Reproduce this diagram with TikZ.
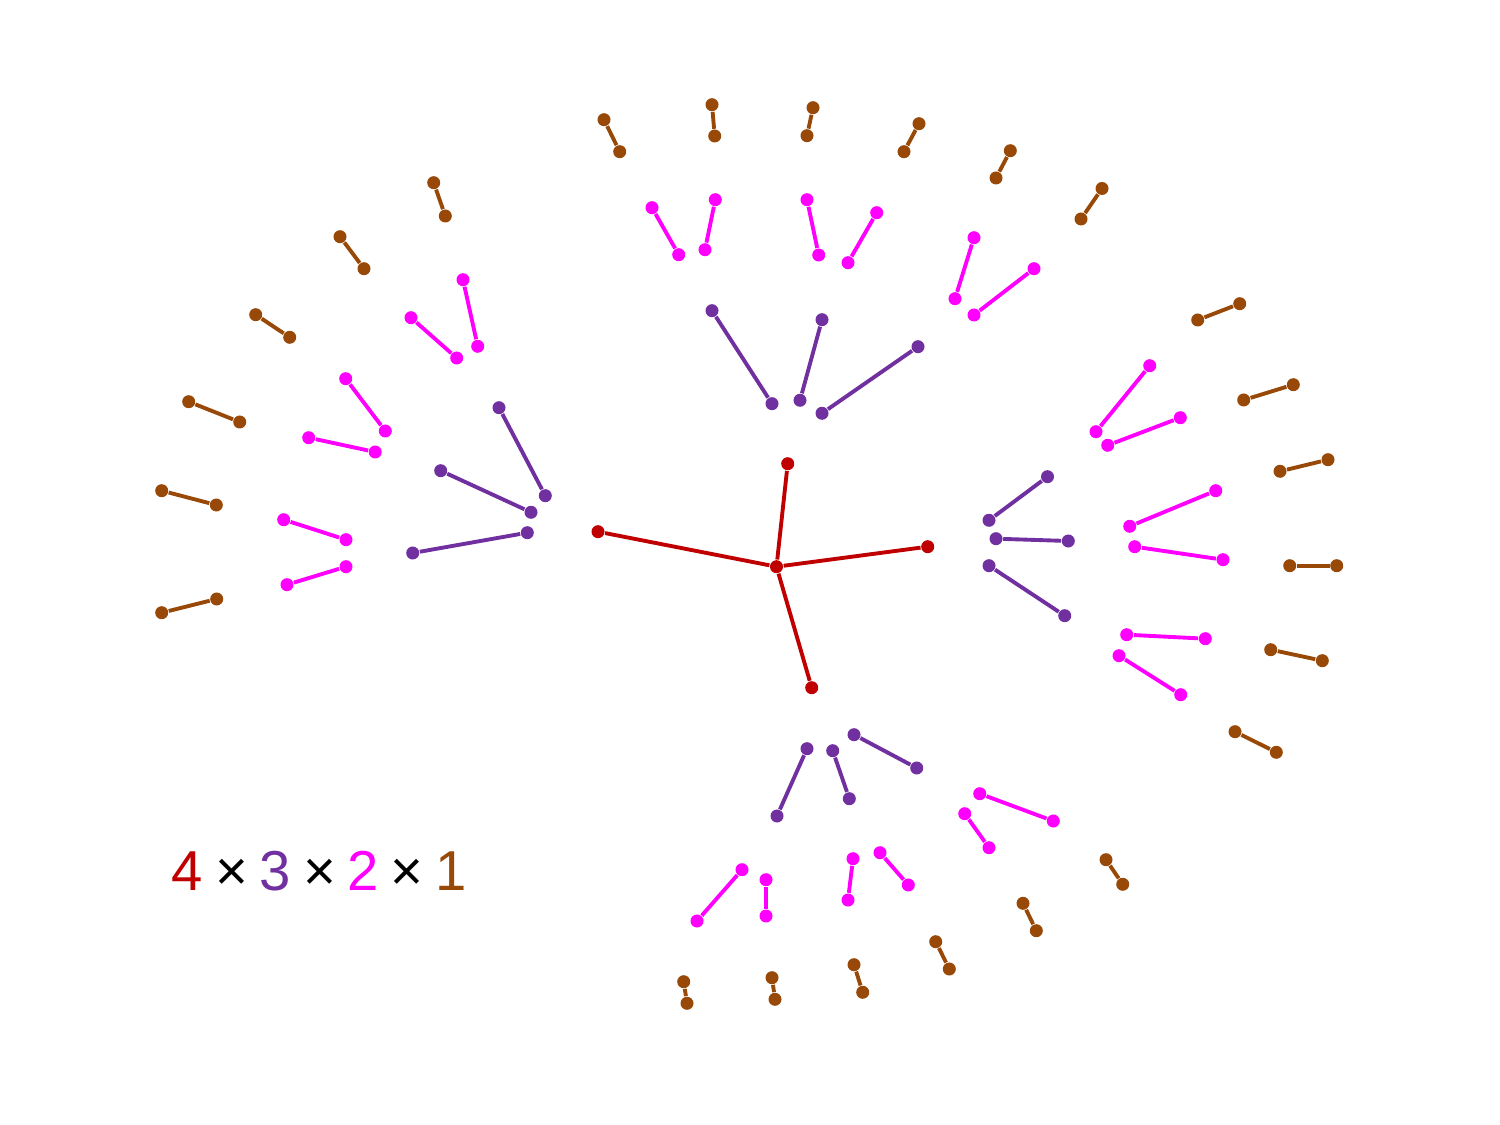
\documentclass[tikz,border=0pt]{standalone}
\usepackage{fontspec}
\setmainfont{Liberation Sans}
\definecolor{cred}{HTML}{C00000}
\definecolor{cpur}{HTML}{7030A0}
\definecolor{cmag}{HTML}{FF00FF}
\definecolor{cbrn}{HTML}{984807}
\tikzset{
  dot/.style={circle,fill=#1,draw=none,inner sep=0pt,minimum size=0.13cm},
  conn/.style={draw=#1,line width=1.1pt},
  leg/.style={anchor=base,inner sep=0pt,text=#1,font=\fontsize{16pt}{19pt}\selectfont},
}
\newcommand\seg[4]{%
  \node[dot=#2] (#1a) at (#3) {};
  \node[dot=#2] (#1b) at (#4) {};
  \draw[conn=#2] (#1a) -- (#1b);}
\begin{document}
\begin{tikzpicture}[x=0.01cm,y=-0.01cm]
\useasboundingbox (0,0) rectangle (1500,1125);
% red star
\node[dot=cred] (c) at (776.5,566.7) {};
\node[dot=cred] (r1) at (787.7,463.7) {};
\node[dot=cred] (r2) at (598,531.7) {};
\node[dot=cred] (r3) at (927.7,546.7) {};
\node[dot=cred] (r4) at (811.7,687.7) {};
\foreach \r in {r1,r2,r3,r4} \draw[conn=cred] (c) -- (\r);
% purple
\seg{pa}{cpur}{712,310.7}{772,403.7}
\seg{pb}{cpur}{822,319.7}{800,400.3}
\seg{pc}{cpur}{918,346.7}{822,413.3}
\seg{pd}{cpur}{499,407.7}{545.3,495.7}
\seg{pe}{cpur}{440.7,470.7}{531,512.3}
\seg{pf}{cpur}{412.7,553}{527.3,532.7}
\seg{pg}{cpur}{1047.5,476.7}{989,520.3}
\seg{ph}{cpur}{996,538.7}{1068.3,541}
\seg{pi}{cpur}{989,565.7}{1064.7,615.7}
\seg{pj}{cpur}{807,748.7}{777,816}
\seg{pk}{cpur}{832.7,750.7}{849.3,798.7}
\seg{pl}{cpur}{854,734.7}{916.7,768}
% magenta
\seg{ma}{cmag}{652,207.7}{678.7,254.7}
\seg{mb}{cmag}{715.3,199.7}{705,249.7}
\seg{mc}{cmag}{807,199.7}{818.7,255}
\seg{md}{cmag}{876.7,212.7}{848,262.7}
\seg{me}{cmag}{974,237.7}{955,298.7}
\seg{mf}{cmag}{1034,268.7}{974,315}
\seg{mg}{cmag}{463,279.7}{477.7,346.3}
\seg{mh}{cmag}{411,317.7}{456.7,358}
\seg{mi}{cmag}{345.7,378.7}{385.3,431}
\seg{mj}{cmag}{308.7,437.7}{375.2,452}
\seg{mk}{cmag}{283.7,519.7}{346,539.7}
\seg{ml}{cmag}{287,584.7}{346,566.7}
\seg{mm}{cmag}{1149.7,365.7}{1096,431.7}
\seg{mn}{cmag}{1180.3,417.7}{1107.7,445.3}
\seg{mo}{cmag}{1215.7,490.7}{1129.7,526.3}
\seg{mp}{cmag}{1134.7,546.7}{1223,559.7}
\seg{mq}{cmag}{1126.7,634.7}{1205.3,638.7}
\seg{mr}{cmag}{1119,655.7}{1180.7,694.7}
\seg{ms}{cmag}{742,869.7}{697,921}
\seg{mt}{cmag}{766,879.7}{766,916}
\seg{mu}{cmag}{853,858.7}{848,900}
\seg{mv}{cmag}{880,852.7}{908.3,885}
\seg{mw}{cmag}{979.7,793.7}{1053.3,821}
\seg{mx}{cmag}{964.7,813.7}{989,847.7}
% brown
\seg{ba}{cbrn}{604,119.7}{619.7,151.7}
\seg{bb}{cbrn}{712,104.7}{714.7,136}
\seg{bc}{cbrn}{813,107.7}{807,135.7}
\seg{bd}{cbrn}{919,123.7}{904,151.7}
\seg{be}{cbrn}{1010.3,150.7}{996,178}
\seg{bf}{cbrn}{1102,188.5}{1081,219}
\seg{bg}{cbrn}{433.7,182.7}{445.3,216}
\seg{bh}{cbrn}{340,236.7}{364,268.7}
\seg{bi}{cbrn}{255.7,314.7}{289.7,337.3}
\seg{bj}{cbrn}{188.7,401.7}{239.7,422}
\seg{bk}{cbrn}{161.7,490.7}{216.3,505}
\seg{bl}{cbrn}{161.7,612.7}{216.7,599}
\seg{bm}{cbrn}{1239.7,303.7}{1197.7,320}
\seg{bn}{cbrn}{1293.3,384.7}{1243.7,400}
\seg{bo}{cbrn}{1328,459.7}{1280,471.3}
\seg{bp}{cbrn}{1289.7,565.7}{1336.7,565.7}
\seg{bq}{cbrn}{1270.7,649.7}{1322.3,660.7}
\seg{br}{cbrn}{1235,731.7}{1276.3,752.3}
\seg{bs}{cbrn}{683.7,981.7}{687,1003.3}
\seg{bt}{cbrn}{772,977.7}{775,999.3}
\seg{bu}{cbrn}{854,964.7}{862.7,992.3}
\seg{bv}{cbrn}{935.7,941.7}{949.3,969}
\seg{bw}{cbrn}{1023,903.3}{1036.3,930.7}
\seg{bx}{cbrn}{1106,859.7}{1122.7,884.3}
% legend
\node[leg=cred] (l1) at (187,890) {4};
\node[leg=black] (l2) at (231.5,890) {×};
\node[leg=cpur] (l3) at (275.5,890) {3};
\node[leg=black] (l4) at (320,890) {×};
\node[leg=cmag] (l5) at (363.5,890) {2};
\node[leg=black] (l6) at (407,890) {×};
\node[leg=cbrn] (l7) at (451,890) {1};
\end{tikzpicture}
\end{document}
